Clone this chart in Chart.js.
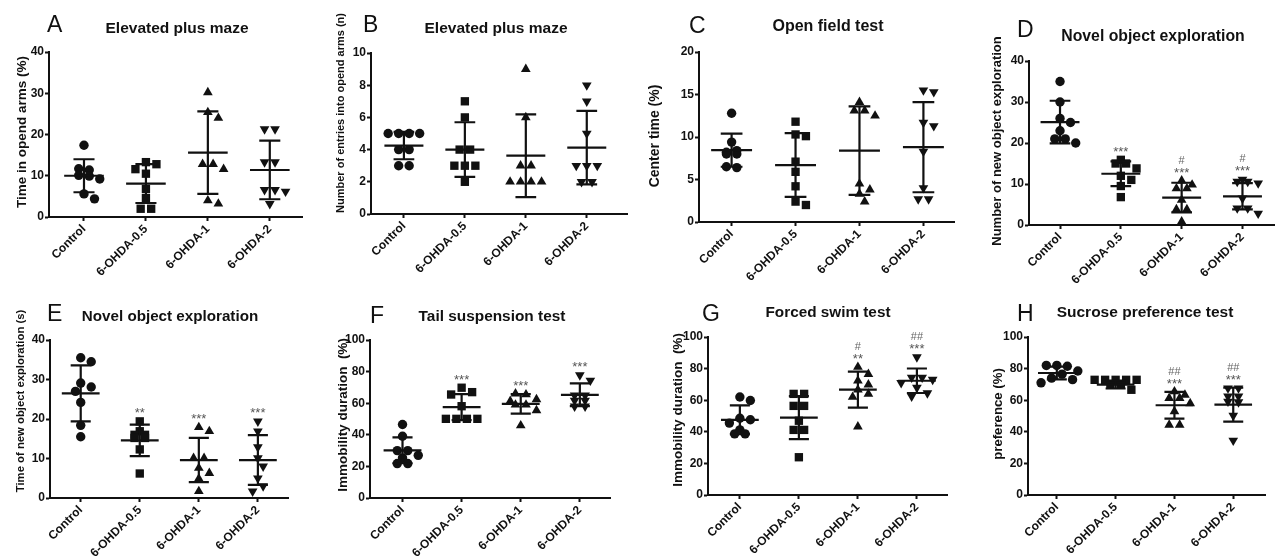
<!DOCTYPE html>
<html><head><meta charset="utf-8">
<script src="https://cdn.jsdelivr.net/npm/chart.js@4.4.1/dist/chart.umd.min.js"></script>
<style>
html,body{margin:0;padding:0;background:#fff;width:1280px;height:557px;overflow:hidden;position:relative}
canvas{position:absolute}
</style></head><body>
<script>
const groups = ['Control', '6-OHDA-0.5', '6-OHDA-1', '6-OHDA-2'];

// A - Elevated plus maze, time in open arms (%)
const epmTime = [
  [17.4, 11.7, 11.4, 10.1, 9.9, 9.2, 5.6, 4.4],
  [13.3, 12.8, 11.6, 10.5, 6.8, 4.6, 2.0, 2.0],
  [30.2, 25.4, 24.0, 12.8, 12.8, 11.6, 4.0, 3.2],
  [21.3, 21.3, 13.3, 13.3, 6.6, 6.6, 6.2, 3.2]
];
const epmTimeMean = [10.0, 8.1, 15.6, 11.4];
const epmTimeSD = [4.0, 4.7, 10.0, 7.1];
const epmTimeStars = ['', '', '', ''];
const epmTimeHash = ['', '', '', ''];
const epmTimeTicks = [0, 10, 20, 30, 40];

// B - Elevated plus maze, entries
const epmEntries = [
  [5, 5, 5, 5, 4, 4, 3, 3],
  [7, 6, 4, 4, 3, 3, 3, 2],
  [9, 6, 3, 3, 2, 2, 2, 2],
  [8, 7, 5, 3, 3, 3, 2, 2]
];
const epmEntriesMean = [4.25, 4.0, 3.62, 4.12];
const epmEntriesSD = [0.85, 1.7, 2.57, 2.28];
const epmEntriesStars = ['', '', '', ''];
const epmEntriesHash = ['', '', '', ''];
const epmEntriesTicks = [0, 2, 4, 6, 8, 10];

// C - Open field test
const oftCenter = [
  [12.8, 9.4, 8.4, 8.2, 8.0, 8.0, 6.5, 6.4],
  [11.8, 10.3, 10.1, 7.1, 5.9, 4.2, 2.4, 2.0],
  [14.1, 13.1, 13.1, 12.5, 4.5, 3.8, 3.3, 2.4],
  [15.5, 15.3, 11.7, 11.3, 8.3, 4.0, 2.7, 2.7]
];
const oftCenterMean = [8.45, 6.7, 8.4, 8.8];
const oftCenterSD = [1.95, 3.75, 5.2, 5.3];
const oftCenterStars = ['', '', '', ''];
const oftCenterHash = ['', '', '', ''];
const oftCenterTicks = [0, 5, 10, 15, 20];

// D - Novel object exploration, number
const norCount = [
  [35, 30, 26, 25, 23, 21, 21, 20],
  [15.9, 15.0, 15.0, 13.8, 12.0, 11.0, 9.5, 6.8],
  [10.8, 9.8, 8.9, 8.9, 6.1, 3.8, 3.8, 0.8],
  [11.1, 10.6, 10.6, 10.2, 6.5, 4.1, 4.1, 2.8]
];
const norCountMean = [25.1, 12.5, 6.7, 7.0];
const norCountSD = [5.2, 3.0, 3.6, 3.2];
const norCountStars = ['', '***', '***', '***'];
const norCountHash = ['', '', '#', '#'];
const norCountTicks = [0, 10, 20, 30, 40];

// E - Novel object exploration, time
const norTime = [
  [35.5, 34.5, 29.1, 28.1, 27.0, 24.2, 18.4, 15.5],
  [19.4, 16.9, 16.0, 16.0, 15.2, 15.2, 12.3, 6.2],
  [17.9, 16.9, 10.1, 10.1, 7.6, 6.3, 4.9, 1.7],
  [19.4, 16.9, 12.9, 10.1, 8.0, 5.0, 3.0, 1.7]
];
const norTimeMean = [26.5, 14.6, 9.6, 9.6];
const norTimeSD = [7.1, 4.0, 5.6, 6.3];
const norTimeStars = ['', '**', '***', '***'];
const norTimeHash = ['', '', '', ''];
const norTimeTicks = [0, 10, 20, 30, 40];

// F - Tail suspension test
const tstImmobility = [
  [46.5, 39.1, 30, 30, 27, 25.4, 21.8, 21.8],
  [69.8, 67, 65.5, 58.1, 50.1, 50.1, 50.1, 50.1],
  [66, 65.5, 62.4, 61.3, 59, 59, 55.4, 45.9],
  [77.8, 74.4, 65, 65, 61.7, 61.7, 58, 58]
];
const tstImmobilityMean = [30.2, 57.5, 59.6, 65.3];
const tstImmobilitySD = [8.2, 8.2, 6.2, 7.2];
const tstImmobilityStars = ['', '***', '***', '***'];
const tstImmobilityHash = ['', '', '', ''];
const tstImmobilityTicks = [0, 20, 40, 60, 80, 100];

// G - Forced swim test
const fstImmobility = [
  [62, 59.8, 48.6, 47.6, 45.5, 41.2, 38.7, 38.7],
  [64, 64, 56.4, 56.4, 47, 41.2, 41.2, 23.9],
  [81, 76.5, 72.3, 69.8, 66.6, 64, 62, 43.3],
  [87.3, 74.4, 74.4, 73, 71, 68, 64.5, 62.4]
];
const fstImmobilityMean = [47.6, 49.0, 66.7, 72.3];
const fstImmobilitySD = [9.1, 13.6, 11.4, 7.75];
const fstImmobilityStars = ['', '', '**', '***'];
const fstImmobilityHash = ['', '', '#', '##'];
const fstImmobilityTicks = [0, 20, 40, 60, 80, 100];

// H - Sucrose preference test
const sptPreference = [
  [82, 82, 81.5, 78.5, 76.5, 74, 73, 71],
  [72.9, 72.9, 72.9, 72.9, 72.9, 69.8, 69.8, 66.6],
  [65.5, 63.4, 61.3, 61.3, 58, 52.9, 44.4, 44.4],
  [67.6, 67.6, 62.4, 62.4, 59.2, 58.8, 50.3, 34.5]
];
const sptPreferenceMean = [77.2, 69.9, 56.8, 57.2];
const sptPreferenceSD = [4.0, 2.5, 8.5, 10.7];
const sptPreferenceStars = ['', '', '***', '***'];
const sptPreferenceHash = ['', '', '##', '##'];
const sptPreferenceTicks = [0, 20, 40, 60, 80, 100];

const FONT = '"Liberation Sans", Arial, Helvetica, sans-serif';
const INK = '#111';

const panels = [
  {values: epmTime, mean: epmTimeMean, sd: epmTimeSD, stars: epmTimeStars, hash: epmTimeHash, ticks: epmTimeTicks,
   letter: 'A', title: 'Elevated plus maze', ytitle: 'Time in opend arms (%)',
   box: [0, 0, 320, 300], axisX: 49, top: 52, y0: 217, xEnd: 302, xmin: -0.565, xmax: 3.52,
   letterPos: [47, 32], titlePos: [177, 33], titleSize: 15.5, ytPos: [22, 132], ytSize: 13.5},
  {values: epmEntries, mean: epmEntriesMean, sd: epmEntriesSD, stars: epmEntriesStars, hash: epmEntriesHash, ticks: epmEntriesTicks,
   letter: 'B', title: 'Elevated plus maze', ytitle: 'Number of entries into opend arms (n)',
   box: [320, 0, 320, 300], axisX: 371, top: 53, y0: 214, xEnd: 627, xmin: -0.54, xmax: 3.66,
   letterPos: [363, 32], titlePos: [496, 33], titleSize: 15.5, ytPos: [341, 113], ytSize: 11},
  {values: oftCenter, mean: oftCenterMean, sd: oftCenterSD, stars: oftCenterStars, hash: oftCenterHash, ticks: oftCenterTicks,
   letter: 'C', title: 'Open field test', ytitle: 'Center time (%)',
   box: [640, 0, 320, 300], axisX: 699, top: 52, y0: 222, xEnd: 957, xmin: -0.51, xmax: 3.48,
   letterPos: [689, 33], titlePos: [828, 31], titleSize: 16, ytPos: [655, 136], ytSize: 14},
  {values: norCount, mean: norCountMean, sd: norCountSD, stars: norCountStars, hash: norCountHash, ticks: norCountTicks,
   letter: 'D', title: 'Novel object exploration', ytitle: 'Number of new object exploration',
   box: [960, 0, 320, 300], axisX: 1029, top: 61, y0: 225, xEnd: 1275, xmin: -0.51, xmax: 3.52,
   letterPos: [1017, 37], titlePos: [1153, 41], titleSize: 15.8, ytPos: [997, 141], ytSize: 13},
  {values: norTime, mean: norTimeMean, sd: norTimeSD, stars: norTimeStars, hash: norTimeHash, ticks: norTimeTicks,
   letter: 'E', title: 'Novel object exploration', ytitle: 'Time of new object exploration (s)',
   box: [0, 278, 320, 279], axisX: 50, top: 340, y0: 498, xEnd: 288, xmin: -0.52, xmax: 3.51,
   letterPos: [47, 321], titlePos: [170, 321], titleSize: 15.2, ytPos: [21, 401], ytSize: 11.3},
  {values: tstImmobility, mean: tstImmobilityMean, sd: tstImmobilitySD, stars: tstImmobilityStars, hash: tstImmobilityHash, ticks: tstImmobilityTicks,
   letter: 'F', title: 'Tail suspension test', ytitle: 'Immobility duration  (%)',
   box: [320, 278, 320, 279], axisX: 370, top: 340, y0: 498, xEnd: 610, xmin: -0.55, xmax: 3.51,
   letterPos: [370, 323], titlePos: [492, 321], titleSize: 15.4, ytPos: [343, 415], ytSize: 13.5},
  {values: fstImmobility, mean: fstImmobilityMean, sd: fstImmobilitySD, stars: fstImmobilityStars, hash: fstImmobilityHash, ticks: fstImmobilityTicks,
   letter: 'G', title: 'Forced swim test', ytitle: 'Immobility duration  (%)',
   box: [640, 278, 320, 279], axisX: 708, top: 337, y0: 495, xEnd: 947, xmin: -0.54, xmax: 3.51,
   letterPos: [702, 321], titlePos: [828, 317], titleSize: 15.3, ytPos: [678, 410], ytSize: 13.5},
  {values: sptPreference, mean: sptPreferenceMean, sd: sptPreferenceSD, stars: sptPreferenceStars, hash: sptPreferenceHash, ticks: sptPreferenceTicks,
   letter: 'H', title: 'Sucrose preference test', ytitle: 'preference (%)',
   box: [960, 278, 320, 279], axisX: 1028, top: 337, y0: 495, xEnd: 1265, xmin: -0.49, xmax: 3.54,
   letterPos: [1017, 321], titlePos: [1145, 317], titleSize: 15.5, ytPos: [998, 414], ytSize: 13.2}
];

const pointStyles = ['circle', 'rect', 'triangle', 'triangle'];
const pointRotations = [0, 0, 0, 180];
const pointRadii = [4.7, 5.9, 5.6, 5.6];

// Deterministic column-scatter layout (points with close values spread sideways)
function swarmOffsets(vals, pxY, d) {
  const order = vals.map((v, i) => i).sort((a, b) => vals[b] - vals[a]);
  const placed = [];
  const offs = new Array(vals.length).fill(0);
  let i = 0;
  while (i < order.length) {
    let j = i;
    while (j + 1 < order.length && (vals[order[i]] - vals[order[j + 1]]) * pxY < 1.5) j++;
    const n = j - i + 1;
    if (n > 1) {
      for (let k = 0; k < n; k++) {
        const o = (k - (n - 1) / 2) * d;
        offs[order[i + k]] = o;
        placed.push({x: o, y: vals[order[i + k]] * pxY});
      }
    } else {
      const y = vals[order[i]] * pxY;
      const cands = [0];
      for (let k = 1; k <= 8; k++) cands.push(k * d / 2, -k * d / 2);
      let best = cands.find(c => placed.every(p => Math.hypot(p.x - c, p.y - y) >= d * 0.85));
      if (best === undefined) best = 0;
      offs[order[i]] = best;
      placed.push({x: best, y});
    }
    i = j + 1;
  }
  return offs;
}

const panelDecor = {
  id: 'panelDecor',
  afterDatasetsDraw(chart, args, opts) {
    const p = opts.panel;
    const ctx = chart.ctx, xs = chart.scales.x, ys = chart.scales.y;
    ctx.save();
    ctx.strokeStyle = INK;
    ctx.lineWidth = 2.2;
    ctx.lineCap = 'butt';
    p.mean.forEach((m, g) => {
      const s = p.sd[g];
      const xc = xs.getPixelForValue(g);
      const xl = xs.getPixelForValue(g - 0.32), xr = xs.getPixelForValue(g + 0.32);
      const cl = xs.getPixelForValue(g - 0.17), cr = xs.getPixelForValue(g + 0.17);
      const ym = ys.getPixelForValue(m), yt = ys.getPixelForValue(m + s), yb = ys.getPixelForValue(Math.max(0, m - s));
      ctx.beginPath();
      ctx.moveTo(xl, ym); ctx.lineTo(xr, ym);
      ctx.moveTo(xc, yt); ctx.lineTo(xc, yb);
      ctx.moveTo(cl, yt); ctx.lineTo(cr, yt);
      ctx.moveTo(cl, yb); ctx.lineTo(cr, yb);
      ctx.stroke();
      const topVal = Math.max(Math.max(...p.values[g]), m + s);
      const topPx = ys.getPixelForValue(topVal);
      ctx.textAlign = 'center';
      ctx.textBaseline = 'alphabetic';
      if (p.stars[g]) {
        ctx.fillStyle = '#555';
        ctx.font = '13px ' + FONT;
        ctx.fillText(p.stars[g], xc, topPx - 4);
      }
      if (p.hash[g]) {
        ctx.fillStyle = '#666';
        ctx.font = '11px ' + FONT;
        ctx.fillText(p.hash[g], xc, topPx - 17);
      }
    });
    ctx.restore();
  },
  afterDraw(chart, args, opts) {
    const p = opts.panel;
    const ctx = chart.ctx;
    const ox = p.box[0], oy = p.box[1];
    ctx.save();
    ctx.fillStyle = INK;
    ctx.textBaseline = 'alphabetic';
    ctx.textAlign = 'left';
    ctx.font = '23px ' + FONT;
    ctx.fillText(p.letter, p.letterPos[0] - ox, p.letterPos[1] - oy);
    ctx.textAlign = 'center';
    ctx.font = 'bold ' + p.titleSize + 'px ' + FONT;
    ctx.fillText(p.title, p.titlePos[0] - ox, p.titlePos[1] - oy);
    ctx.translate(p.ytPos[0] - ox, p.ytPos[1] - oy);
    ctx.rotate(-Math.PI / 2);
    ctx.textBaseline = 'middle';
    ctx.font = 'bold ' + p.ytSize + 'px ' + FONT;
    ctx.fillText(p.ytitle, 0, 0);
    ctx.restore();
  }
};

panels.forEach(p => {
  const [cl, ct, cw, ch] = p.box;
  const cv = document.createElement('canvas');
  cv.width = cw; cv.height = ch;
  cv.style.left = cl + 'px'; cv.style.top = ct + 'px';
  cv.style.width = cw + 'px'; cv.style.height = ch + 'px';
  document.body.appendChild(cv);
  const ymax = p.ticks[p.ticks.length - 1];
  const pxY = (p.y0 - p.top) / ymax;
  const pxX = (p.xEnd - p.axisX) / (p.xmax - p.xmin);
  const datasets = p.values.map((vals, g) => {
    const offs = swarmOffsets(vals, pxY, 10.5);
    return {
      data: vals.map((v, i) => ({x: g + offs[i] / pxX, y: v})),
      pointStyle: pointStyles[g],
      rotation: pointRotations[g],
      pointRotation: pointRotations[g],
      pointRadius: pointRadii[g],
      pointHoverRadius: pointRadii[g],
      backgroundColor: INK,
      borderColor: INK,
      borderWidth: 0
    };
  });
  const tickFont = {family: FONT, size: 12, weight: 'bold'};
  new Chart(cv, {
    type: 'scatter',
    data: {datasets},
    options: {
      responsive: false,
      animation: false,
      devicePixelRatio: 1,
      layout: {padding: {left: 0, top: p.top - ct, right: cl + cw - p.xEnd, bottom: 0}},
      plugins: {legend: {display: false}, tooltip: {enabled: false}, panelDecor: {panel: p}},
      scales: {
        x: {
          type: 'linear', min: p.xmin, max: p.xmax,
          afterBuildTicks: s => { s.ticks = groups.map((g, i) => ({value: i})); },
          afterFit: s => { s.height = ct + ch - p.y0; },
          ticks: {callback: v => groups[v], minRotation: 45, maxRotation: 45, autoSkip: false, font: tickFont, color: INK, padding: 1},
          grid: {drawOnChartArea: false, drawTicks: true, tickLength: 4, tickWidth: 2, tickColor: INK},
          border: {display: true, color: INK, width: 2}
        },
        y: {
          type: 'linear', min: 0, max: ymax,
          afterBuildTicks: s => { s.ticks = p.ticks.map(v => ({value: v})); },
          afterFit: s => { s.width = p.axisX - cl; },
          ticks: {font: tickFont, color: INK, padding: 1},
          grid: {drawOnChartArea: false, drawTicks: true, tickLength: 4, tickWidth: 2, tickColor: INK},
          border: {display: true, color: INK, width: 2}
        }
      }
    },
    plugins: [panelDecor]
  });
});
</script>
</body></html>
